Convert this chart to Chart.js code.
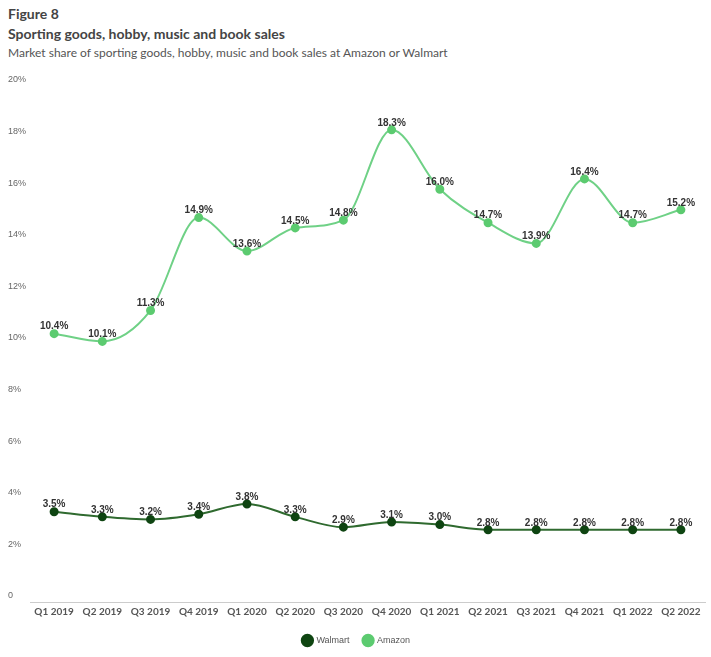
<!DOCTYPE html>
<html>
<head>
<meta charset="utf-8">
<script src="https://cdn.jsdelivr.net/npm/chart.js@4"></script>
<style>
  body { margin: 0; background: #fff; width: 711px; height: 657px; overflow: hidden; font-family: Lato, sans-serif; }
  .head { position: absolute; left: 8px; top: 4px; color: #444; }
  .fig { font-size: 14px; font-weight: bold; line-height: 20px; }
  .ttl { font-size: 14px; font-weight: bold; line-height: 20px; }
  .sub { font-size: 12px; color: #555; line-height: 18px; }
  .wrap { position: absolute; left: 0; top: 68px; width: 711px; height: 589px; }
</style>
</head>
<body>
<div class="head">
  <div class="fig">Figure 8</div>
  <div class="ttl">Sporting goods, hobby, music and book sales</div>
  <div class="sub">Market share of sporting goods, hobby, music and book sales at Amazon or Walmart</div>
</div>
<div class="wrap"><canvas id="chart"></canvas></div>
<script>
const quarters = ["Q1 2019","Q2 2019","Q3 2019","Q4 2019","Q1 2020","Q2 2020","Q3 2020","Q4 2020","Q1 2021","Q2 2021","Q3 2021","Q4 2021","Q1 2022","Q2 2022"];
const walmart = [3.5, 3.3, 3.2, 3.4, 3.8, 3.3, 2.9, 3.1, 3.0, 2.8, 2.8, 2.8, 2.8, 2.8];
const amazon  = [10.4, 10.1, 11.3, 14.9, 13.6, 14.5, 14.8, 18.3, 16.0, 14.7, 13.9, 16.4, 14.7, 15.2];

// draws the value above each point
const valueLabels = {
  id: "valueLabels",
  afterDatasetsDraw(chart) {
    const ctx = chart.ctx;
    ctx.save();
    ctx.font = "bold 10px 'Liberation Sans', Arial, sans-serif";
    ctx.fillStyle = "#333";
    ctx.textAlign = "center";
    ctx.textBaseline = "bottom";
    chart.data.datasets.forEach((ds, i) => {
      chart.getDatasetMeta(i).data.forEach((pt, j) => {
        ctx.fillText(ds.data[j].toFixed(1) + "%", pt.x, pt.y - 2);
      });
    });
    ctx.restore();
  }
};

new Chart(document.getElementById("chart"), {
  type: "line",
  data: {
    labels: quarters,
    datasets: [
      { label: "Walmart", data: walmart, borderColor: "#2f6a2f", backgroundColor: "#0f4512",
        pointBackgroundColor: "#0f4512", pointBorderColor: "#0f4512", pointRadius: 3.5, borderWidth: 2,
        cubicInterpolationMode: "monotone" },
      { label: "Amazon", data: amazon, borderColor: "#6fd186", backgroundColor: "#5ccf77",
        pointBackgroundColor: "#5ccb70", pointBorderColor: "#5ccb70", pointRadius: 3.5, borderWidth: 2,
        cubicInterpolationMode: "monotone" }
    ]
  },
  options: {
    responsive: true,
    maintainAspectRatio: false,
    animation: false,
    layout: { padding: { top: 18, left: 8, right: 6, bottom: 2 } },
    plugins: {
      legend: {
        position: "bottom",
        labels: { usePointStyle: true, pointStyle: "circle", boxWidth: 10, boxHeight: 8, padding: 14,
          color: "#555", font: { size: 9, family: "'Liberation Sans', Arial, sans-serif" } }
      },
      tooltip: { enabled: false }
    },
    scales: {
      x: {
        offset: true,
        grid: { display: false, drawTicks: false },
        border: { display: true, color: "#ccc" },
        ticks: { color: "#555", padding: 4, maxRotation: 0, font: { size: 10, weight: "bold", family: "Lato" } }
      },
      y: {
        min: 0, max: 20,
        grid: { display: false, drawTicks: false },
        border: { display: false },
        ticks: { stepSize: 2, color: "#666", padding: 2, crossAlign: "far", labelOffset: -6,
          font: { size: 9, family: "'Liberation Sans', Arial, sans-serif" },
          callback: v => v === 0 ? "0" : v + "%" }
      }
    }
  },
  plugins: [valueLabels]
});
</script>
</body>
</html>
